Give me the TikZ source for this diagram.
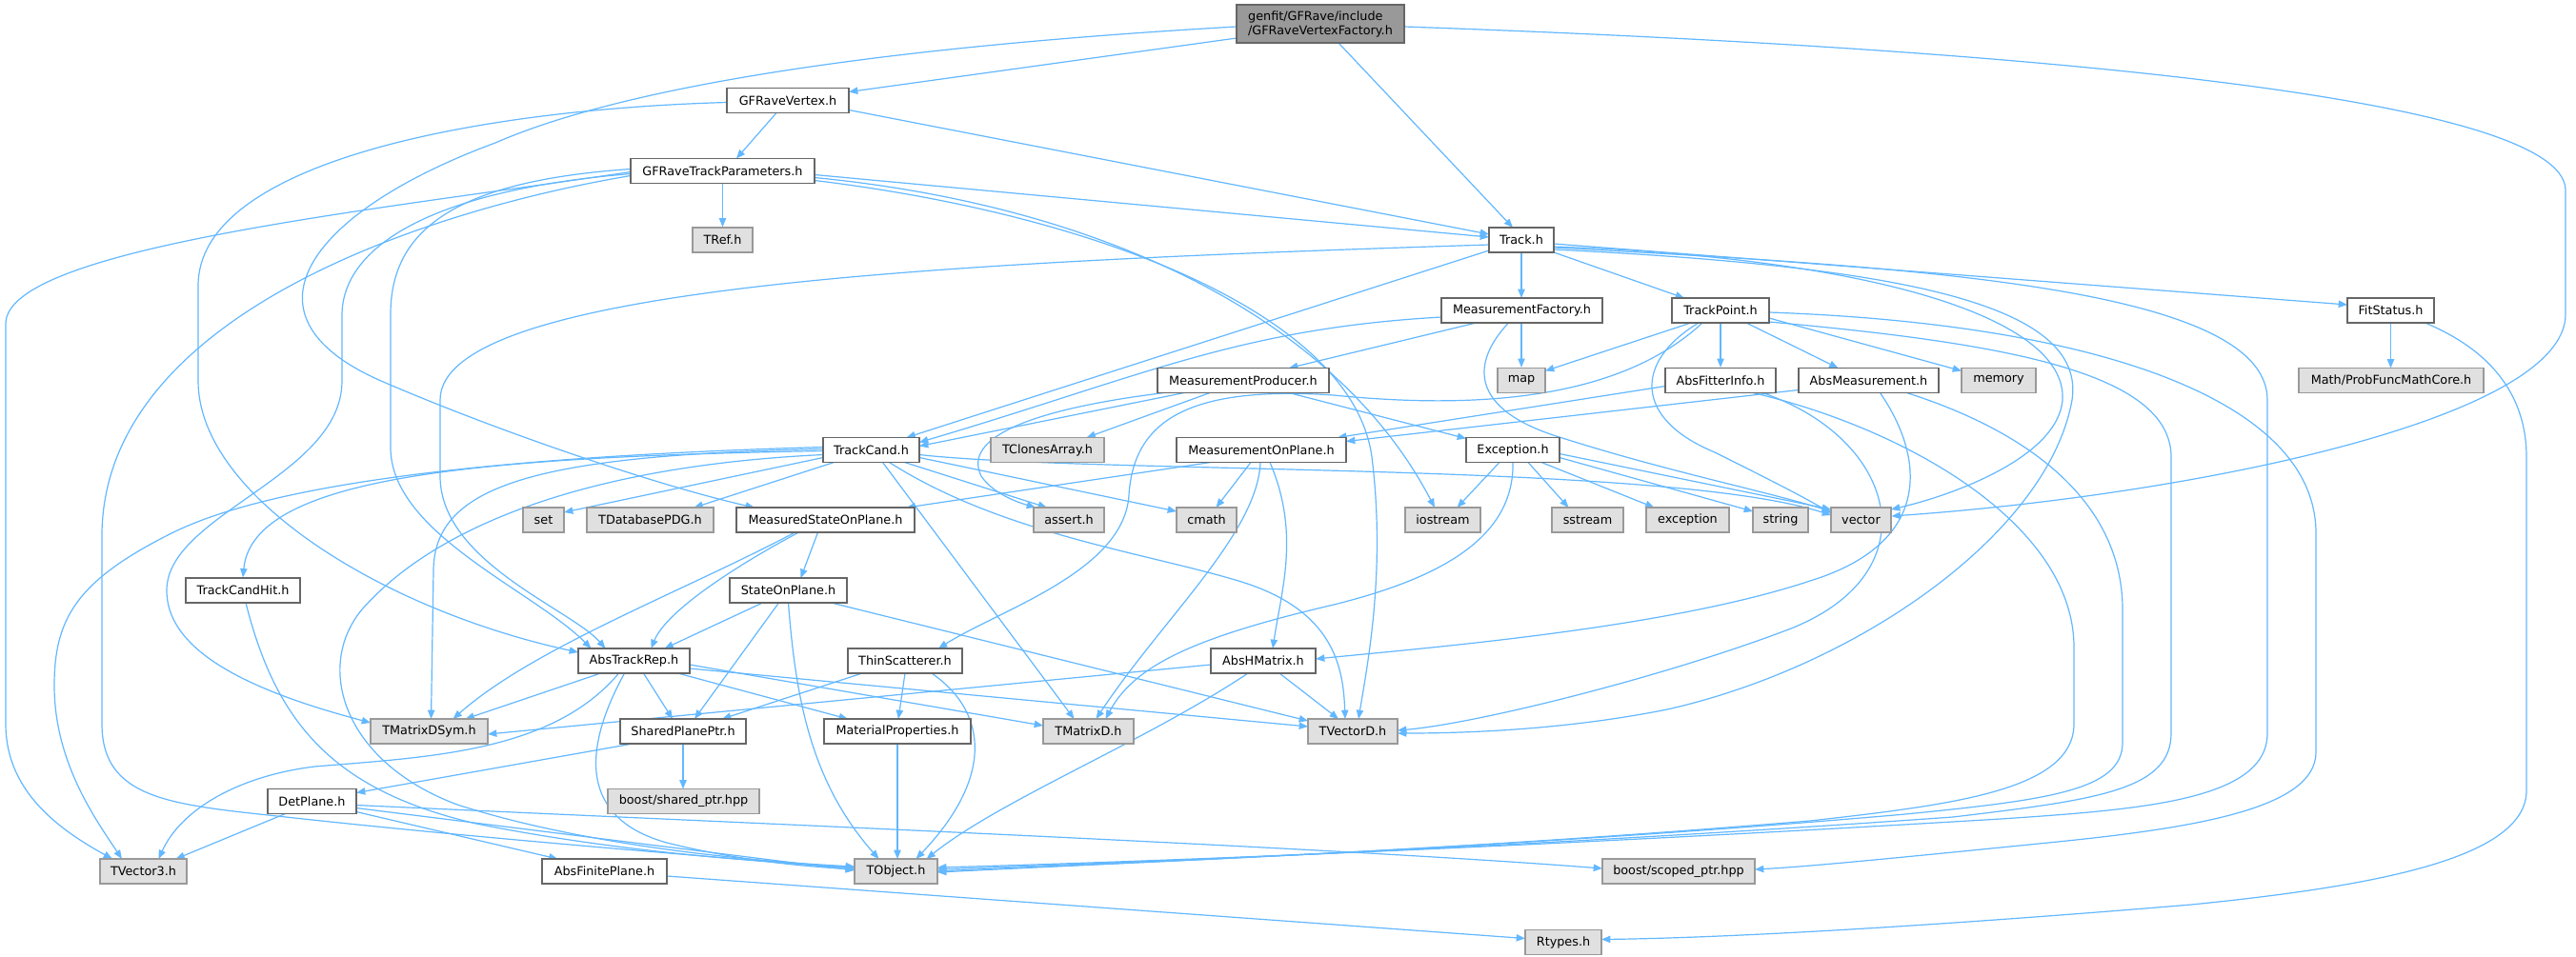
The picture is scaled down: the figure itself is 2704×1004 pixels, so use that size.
\documentclass[tikz,border=0pt]{standalone}
\usepackage{fontspec}
\newfontfamily\dvs{DejaVu Sans}
\usetikzlibrary{arrows.meta,calc}
\definecolor{edgec}{HTML}{63B8FF}
\definecolor{bordc}{HTML}{666666}
\definecolor{gborder}{HTML}{999999}
\definecolor{gfill}{HTML}{E0E0E0}
\definecolor{rootfill}{HTML}{999999}
\pgfdeclarelayer{bg}
\pgfsetlayers{bg,main}
\tikzset{
  box/.style={draw=bordc, fill=white, line width=0.9pt, inner sep=0pt, minimum height=19.5pt, font=\dvs\fontsize{9.6}{11.25}\selectfont},
  ext/.style={box, draw=gborder, fill=gfill},
  root/.style={box, fill=rootfill, draw=bordc, minimum height=30pt, align=left},
  edge/.style={draw=edgec, line width=0.9pt, -{Triangle[length=7pt,width=5.5pt]}}
}
\begin{document}
\begin{tikzpicture}[x=0.75pt,y=-0.75pt]
\begin{pgfonlayer}{bg}
\fill[white] (0,0) rectangle (2704,1004);
\end{pgfonlayer}
\useasboundingbox (0,0) rectangle (2704,1004);
% nodes
\node[root, minimum width=132pt] (T) at (1386,25) {genfit/GFRave/include\\/GFRaveVertexFactory.h};
\node[box, minimum width=96pt] (GV) at (827,105.5) {GFRaveVertex.h};
\node[box, minimum width=144.75pt] (GTP) at (758.5,179.5) {GFRaveTrackParameters.h};
\node[ext, minimum width=47.25pt] (TRef) at (758.5,252) {TRef.h};
\node[box, minimum width=51pt] (Tr) at (1597,252) {Track.h};
\node[box, minimum width=126.75pt] (MF) at (1597.5,326) {MeasurementFactory.h};
\node[box, minimum width=76.5pt] (TP) at (1806,326) {TrackPoint.h};
\node[box, minimum width=68.25pt] (FS) at (2509.5,326) {FitStatus.h};
\node[box, minimum width=135pt] (MP) at (1305,399.5) {MeasurementProducer.h};
\node[ext, minimum width=37.5pt] (map) at (1597,399.5) {map};
\node[box, minimum width=87pt] (AFI) at (1806,399.5) {AbsFitterInfo.h};
\node[box, minimum width=110.25pt] (AM) at (1961.5,399.5) {AbsMeasurement.h};
\node[ext, minimum width=58.5pt] (mem) at (2098,399.5) {memory};
\node[ext, minimum width=145.5pt] (MPC) at (2510,399.5) {Math/ProbFuncMathCore.h};
\node[box, minimum width=75.75pt] (TC) at (914.5,472.5) {TrackCand.h};
\node[ext, minimum width=89.25pt] (TCA) at (1099.5,472.5) {TClonesArray.h};
\node[box, minimum width=133.5pt] (MOP) at (1324,472.5) {MeasurementOnPlane.h};
\node[box, minimum width=73.5pt] (Exc) at (1588,472.5) {Exception.h};
\node[ext, minimum width=32.25pt] (set) at (570.5,546) {set};
\node[ext, minimum width=99.75pt] (TDB) at (682.5,546) {TDatabasePDG.h};
\node[box, minimum width=140.25pt] (MSOP) at (866.5,546) {MeasuredStateOnPlane.h};
\node[ext, minimum width=55.5pt] (ast) at (1122,546) {assert.h};
\node[ext, minimum width=47.25pt] (cm) at (1266.5,546) {cmath};
\node[ext, minimum width=59.25pt] (ios) at (1514.5,546) {iostream};
\node[ext, minimum width=56.25pt] (ss) at (1666.5,546) {sstream};
\node[ext, minimum width=65.25pt] (exc2) at (1771.5,546) {exception};
\node[ext, minimum width=43.5pt] (str) at (1869,546) {string};
\node[ext, minimum width=47.25pt] (vec) at (1953.5,546) {vector};
\node[box, minimum width=90pt] (TCH) at (255,620) {TrackCandHit.h};
\node[box, minimum width=92.25pt] (SOP) at (827.5,620) {StateOnPlane.h};
\node[box, minimum width=87.75pt] (ATR) at (665.5,694) {AbsTrackRep.h};
\node[box, minimum width=90pt] (TS) at (950,694) {ThinScatterer.h};
\node[box, minimum width=82.5pt] (AH) at (1326,694) {AbsHMatrix.h};
\node[ext, minimum width=92.25pt] (TMDS) at (450.5,768) {TMatrixDSym.h};
\node[box, minimum width=99pt] (SPP) at (717,768) {SharedPlanePtr.h};
\node[box, minimum width=115.5pt] (MP2) at (942,768) {MaterialProperties.h};
\node[ext, minimum width=71.25pt] (TMD) at (1142.5,768) {TMatrixD.h};
\node[ext, minimum width=70.5pt] (TVD) at (1420,768) {TVectorD.h};
\node[box, minimum width=69.75pt] (DP) at (327.5,841.5) {DetPlane.h};
\node[ext, minimum width=119.25pt] (sp) at (717.5,841.5) {boost/shared\_ptr.hpp};
\node[ext, minimum width=68.25pt] (TV3) at (150.5,915) {TVector3.h};
\node[box, minimum width=98.25pt] (AFP) at (634.5,915) {AbsFinitePlane.h};
\node[ext, minimum width=65.25pt] (TObj) at (940.5,915) {TObject.h};
\node[ext, minimum width=120pt] (scp) at (1762,915) {boost/scoped\_ptr.hpp};
\node[ext, minimum width=60pt] (Rt) at (1641,989.5) {Rtypes.h};
% edges
\begin{pgfonlayer}{bg}
\draw[edge] ($(T)+(-88,15)$) -- ($(GV)+(64,-9)$);
\draw[edge] ($(T)+(19,20)$) -- ($(Tr)+(-9,-13)$);
\draw[edge] ($(T)+(-88,3)$) .. controls (1000,45) and (680,80) .. (520,150) .. controls (330,220) and (240,330) .. (400,400) .. controls (520,452) and (690,510) .. ($(MSOP)+(-74.5,-13)$);
\draw[edge] ($(T)+(88,3)$) .. controls (2100,50) and (2693,100) .. (2693,200) -- (2693,330) .. controls (2693,440) and (2300,520) .. ($(vec)+(32,-4)$);
\draw[edge] ($(GV)+(-12,13)$) -- ($(GTP)+(14.5,-13)$);
\draw[edge] ($(GV)+(64,10)$) -- ($(Tr)+(-34,-6)$);
\draw[edge] ($(GV)+(-64,2)$) .. controls (500,115) and (208,170) .. (208,300) -- (208,400) .. controls (208,520) and (400,640) .. ($(ATR)+(-58.5,-9)$);
\draw[edge] (GTP.south) -- (TRef.north);
\draw[edge] ($(GTP)+(96.5,4)$) -- ($(Tr)+(-34,-3)$);
\draw[edge] ($(GTP)+(-96.5,1)$) .. controls (400,220) and (6,260) .. (6,340) -- (6,760) .. controls (6,830) and (60,870) .. ($(TV3)+(-32.5,-13)$);
\draw[edge] ($(GTP)+(96.5,10)$) .. controls (1150,225) and (1420,330) .. (1440,480) .. controls (1455,600) and (1435,700) .. ($(TVD)+(6,-13)$);
\draw[edge] ($(GTP)+(96.5,7)$) .. controls (1150,215) and (1400,330) .. ($(ios)+(-8.5,-13)$);
\draw[edge] ($(GTP)+(-96.5,5)$) .. controls (450,220) and (110,330) .. (107,560) -- (107,760) .. controls (107,840) and (180,845) .. (300,858) .. controls (500,880) and (750,900) .. ($(TObj)+(-43.5,-3)$);
\draw[edge] ($(GTP)+(-96.5,3)$) .. controls (450,200) and (360,260) .. (359,330) -- (359,400) .. controls (359,500) and (175,540) .. (175,620) .. controls (175,690) and (280,730) .. ($(TMDS)+(-61.5,-9)$);
\draw[edge] ($(GTP)+(-96.5,-2)$) .. controls (480,190) and (410,240) .. (410,330) -- (410,470) .. controls (410,560) and (560,620) .. ($(ATR)+(-45,-13)$);
\draw[edge] ($(Tr)+(-34,5)$) .. controls (1000,275) and (462,300) .. (462,420) -- (462,500) .. controls (462,590) and (600,640) .. ($(ATR)+(-30,-13)$);
\draw[edge] (Tr.south) -- ($(MF)+(-0.5,-13)$);
\draw[edge] ($(Tr)+(34,13)$) -- ($(TP)+(-38,-13)$);
\draw[edge] ($(Tr)+(34,4)$) -- ($(FS)+(-45.5,-6)$);
\draw[edge] ($(Tr)+(-34,11)$) -- ($(TC)+(37,-13)$);
\draw[edge] ($(Tr)+(34,8)$) .. controls (2000,280) and (2380,300) .. (2380,420) -- (2380,770) .. controls (2380,840) and (2250,850) .. (2100,860) .. controls (1600,890) and (1200,905) .. ($(TObj)+(43.5,-4)$);
\draw[edge] ($(Tr)+(34,7)$) .. controls (1950,270) and (2170,330) .. (2165,420) .. controls (2160,480) and (2050,520) .. ($(vec)+(31.5,-11)$);
\draw[edge] ($(Tr)+(34,10)$) .. controls (2000,280) and (2190,320) .. (2175,420) .. controls (2150,560) and (1950,700) .. (1750,745) .. controls (1650,765) and (1550,770) .. ($(TVD)+(47,2)$);
\draw[edge] ($(MF)+(-48,13)$) -- ($(MP)+(48,-13)$);
\draw[edge] ($(MF)+(-0.5,13)$) -- (map.north);
\draw[edge] ($(MF)+(-84.5,7)$) .. controls (1300,345) and (1200,395) .. ($(TC)+(50.5,-8)$);
\draw[edge] ($(MF)+(-14,13)$) .. controls (1545,380) and (1540,430) .. (1640,460) .. controls (1750,495) and (1850,515) .. ($(vec)+(-31.5,-9)$);
\draw[edge] ($(MP)+(-35,13)$) -- ($(TCA)+(41,-13)$);
\draw[edge] ($(MP)+(48,13)$) -- ($(Exc)+(-49,-12)$);
\draw[edge] ($(MP)+(-62,13)$) -- ($(TC)+(50.5,-4)$);
\draw[edge] ($(MP)+(-83,13)$) .. controls (1080,430) and (1010,460) .. (1030,500) .. controls (1040,515) and (1060,525) .. ($(ast)+(-35,-13)$);
\draw[edge] ($(TP)+(-31,13)$) -- ($(map)+(25,-10)$);
\draw[edge] (TP.south) -- (AFI.north);
\draw[edge] ($(TP)+(27,13)$) -- ($(AM)+(-32,-13)$);
\draw[edge] ($(TP)+(51,8)$) -- ($(mem)+(-39,-10)$);
\draw[edge] ($(TP)+(-19,13)$) .. controls (1700,420) and (1550,430) .. (1400,415) .. controls (1250,405) and (1190,440) .. (1185,520) .. controls (1180,600) and (1050,640) .. ($(TS)+(35,-13)$);
\draw[edge] ($(TP)+(-23,13)$) .. controls (1715,380) and (1715,440) .. (1800,475) .. controls (1850,500) and (1890,520) .. ($(vec)+(-31.5,-7)$);
\draw[edge] ($(TP)+(51,12)$) .. controls (2100,360) and (2279,390) .. (2279,480) -- (2279,770) .. controls (2279,830) and (2200,840) .. (2050,858) .. controls (1600,890) and (1200,905) .. ($(TObj)+(43.5,-2)$);
\draw[edge] ($(TP)+(51,2)$) .. controls (2200,340) and (2431,420) .. (2431,560) -- (2431,790) .. controls (2431,850) and (2300,870) .. (2150,885) .. controls (2000,900) and (1900,910) .. ($(scp)+(80,-2)$);
\draw[edge] ($(AFI)+(-58,6)$) -- ($(MOP)+(80,-13)$);
\draw[edge] ($(AM)+(-73.5,10)$) -- ($(MOP)+(89,-9)$);
\draw[edge] ($(AFI)+(34,13)$) .. controls (2000,450) and (2177,550) .. (2177,680) -- (2177,760) .. controls (2177,830) and (2050,845) .. (1900,862) .. controls (1500,895) and (1200,905) .. ($(TObj)+(43.5,0)$);
\draw[edge] ($(AM)+(40,13)$) .. controls (2150,460) and (2228,540) .. (2228,640) -- (2228,780) .. controls (2228,830) and (2150,840) .. (2000,855) .. controls (1600,890) and (1200,905) .. ($(TObj)+(43.5,1)$);
\draw[edge] ($(AM)+(12,13)$) .. controls (2020,480) and (2030,570) .. (1900,610) .. controls (1750,660) and (1500,680) .. ($(AH)+(55,-2)$);
\draw[edge] ($(AFI)+(44,13)$) .. controls (1990,460) and (2030,600) .. (1880,660) .. controls (1750,710) and (1550,760) .. ($(TVD)+(47,-1)$);
\draw[edge] ($(FS)+(0,13)$) -- ($(MPC)+(-0.5,-13)$);
\draw[edge] ($(FS)+(36,13)$) .. controls (2620,370) and (2652,420) .. (2652,480) -- (2652,830) .. controls (2652,900) and (2500,930) .. (2300,950) .. controls (2000,975) and (1800,985) .. ($(Rt)+(40,-3)$);
\draw[edge] ($(TC)+(-50.5,1)$) .. controls (500,480) and (265,500) .. (TCH.north);
\draw[edge] ($(TC)+(-50.5,8)$) -- ($(set)+(21.5,-8)$);
\draw[edge] ($(TC)+(-39,13)$) -- ($(TDB)+(46,-13)$);
\draw[edge] ($(TC)+(-50.5,-3)$) .. controls (500,480) and (280,510) .. (180,560) .. controls (80,610) and (57,650) .. (57,720) .. controls (57,800) and (100,860) .. ($(TV3)+(-22.5,-13)$);
\draw[edge] ($(TC)+(-50.5,-1)$) .. controls (560,478) and (455,510) .. (455,600) -- ($(TMDS)+(2,-13)$);
\draw[edge] ($(TC)+(-50.5,5)$) .. controls (600,490) and (450,560) .. (380,640) .. controls (330,700) and (360,800) .. (480,845) .. controls (620,890) and (800,905) .. ($(TObj)+(-43.5,-5)$);
\draw[edge] ($(TC)+(35,13)$) -- ($(ast)+(-23,-13)$);
\draw[edge] ($(TC)+(50.5,8)$) -- ($(cm)+(-31.5,-9)$);
\draw[edge] ($(TC)+(12,13)$) -- ($(TMD)+(-15,-13)$);
\draw[edge] ($(TC)+(19,13)$) .. controls (1050,560) and (1200,580) .. (1300,610) .. controls (1400,640) and (1410,700) .. ($(TVD)+(-8,-13)$);
\draw[edge] ($(TC)+(50.5,5)$) .. controls (1150,498) and (1750,485) .. ($(vec)+(-31.5,-5)$);
\draw[edge] ($(MSOP)+(-8,13)$) -- ($(SOP)+(13,-13)$);
\draw[edge] ($(MSOP)+(-28,13)$) .. controls (780,590) and (700,640) .. ($(ATR)+(18,-13)$);
\draw[edge] ($(MSOP)+(-32,13)$) .. controls (720,620) and (560,680) .. ($(TMDS)+(25,-13)$);
\draw[edge] ($(SOP)+(-27,13)$) -- ($(ATR)+(32,-13)$);
\draw[edge] ($(SOP)+(-10,13)$) -- ($(SPP)+(12,-13)$);
\draw[edge] ($(SOP)+(0,13)$) .. controls (835,730) and (850,820) .. ($(TObj)+(-18,-13)$);
\draw[edge] ($(SOP)+(45,13)$) -- ($(TVD)+(-47,-11)$);
\draw[edge] ($(ATR)+(-35,13)$) -- ($(TMDS)+(38,-13)$);
\draw[edge] ($(ATR)+(10,13)$) -- ($(SPP)+(-11,-13)$);
\draw[edge] ($(ATR)+(46,13)$) -- ($(MP2)+(-52,-13)$);
\draw[edge] ($(ATR)+(58.5,4)$) -- ($(TMD)+(-47.5,-6)$);
\draw[edge] ($(ATR)+(58.5,8)$) -- ($(TVD)+(-47,-5)$);
\draw[edge] ($(ATR)+(-16,13)$) .. controls (580,790) and (450,795) .. (330,805) .. controls (250,815) and (190,850) .. ($(TV3)+(16,-13)$);
\draw[edge] ($(ATR)+(-10,13)$) .. controls (610,790) and (610,860) .. (700,885) .. controls (780,905) and (850,910) .. ($(TObj)+(-43.5,-2)$);
\draw[edge] ($(TS)+(-45,13)$) -- ($(SPP)+(41,-13)$);
\draw[edge] ($(TS)+(0,13)$) -- ($(MP2)+(1,-13)$);
\draw[edge] ($(TS)+(28,13)$) .. controls (1040,750) and (1040,820) .. ($(TObj)+(21,-13)$);
\draw[edge] ($(MP2)+(0,13)$) -- ($(TObj)+(1.5,-13)$);
\draw[edge] ($(AH)+(-55,4)$) -- ($(TMDS)+(61.5,3)$);
\draw[edge] ($(AH)+(17,13)$) -- ($(TVD)+(-15,-13)$);
\draw[edge] ($(AH)+(-16,13)$) .. controls (1200,780) and (1050,840) .. ($(TObj)+(32,-13)$);
\draw[edge] ($(MOP)+(-53,13)$) -- ($(MSOP)+(85,-13)$);
\draw[edge] ($(MOP)+(-11,13)$) -- ($(cm)+(10,-13)$);
\draw[edge] ($(MOP)+(-1,13)$) .. controls (1320,560) and (1220,650) .. ($(TMD)+(8,-13)$);
\draw[edge] ($(MOP)+(9,13)$) .. controls (1365,560) and (1345,620) .. ($(AH)+(10,-13)$);
\draw[edge] ($(Exc)+(-14,13)$) -- ($(ios)+(15,-13)$);
\draw[edge] ($(Exc)+(16,13)$) -- ($(ss)+(-20,-13)$);
\draw[edge] ($(Exc)+(30,13)$) -- ($(exc2)+(-35,-13)$);
\draw[edge] ($(Exc)+(49,8)$) -- ($(str)+(-29,-9)$);
\draw[edge] ($(Exc)+(49,4)$) -- ($(vec)+(-31.5,-11)$);
\draw[edge] ($(Exc)+(0,13)$) .. controls (1590,570) and (1500,610) .. (1400,635) .. controls (1250,670) and (1190,700) .. ($(TMD)+(18,-13)$);
\draw[edge] ($(TCH)+(3,13)$) .. controls (290,760) and (350,830) .. (500,865) .. controls (650,895) and (800,905) .. ($(TObj)+(-43.5,-4)$);
\draw[edge] ($(SPP)+(-53,13)$) -- ($(DP)+(46.5,-9)$);
\draw[edge] (SPP.south) -- ($(sp)+(-0.5,-13)$);
\draw[edge] ($(DP)+(-28,13)$) -- ($(TV3)+(34,-13)$);
\draw[edge] ($(DP)+(46.5,7)$) -- ($(TObj)+(-43.5,-1)$);
\draw[edge] ($(DP)+(46.5,11)$) -- ($(AFP)+(-49,-13)$);
\draw[edge] ($(DP)+(46.5,4)$) .. controls (800,865) and (1400,890) .. ($(scp)+(-80,-3)$);
\draw[edge] ($(AFP)+(65.5,5)$) -- ($(Rt)+(-40,-4)$);
\end{pgfonlayer}
\end{tikzpicture}
\end{document}
